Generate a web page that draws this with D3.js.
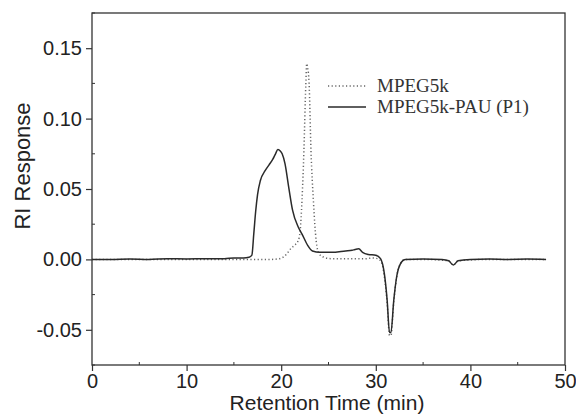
<!DOCTYPE html>
<html lang="en">
    <head>
        <meta charset="utf-8">
        <title>GPC traces</title>
        <script type="text/javascript" src="https://cdn.jsdelivr.net/npm/d3@7"></script>
        <style>
            body { margin: 0; background: #fff; }
        </style>
    </head>
    <body>
        <script type="text/javascript">

            //Width and height
            var w = 576;
            var h = 418;
            var margin = {top: 13, right: 11, bottom: 53, left: 92};

            //Series (time in min, RI response)
            var seriesNames = ["MPEG5k", "MPEG5k-PAU (P1)"];

            var mpegTime = [0, 5, 10, 15, 19, 19.8, 20.2, 20.6, 21.0, 21.4, 21.8, 22.0, 22.2, 22.4, 22.6, 22.7,
                22.8, 22.95, 23.15, 23.4, 23.7, 24.0, 24.5, 25.3, 27, 29, 29.6, 30.2, 30.6, 30.9, 31.2, 31.45,
                31.6, 31.9, 32.2, 32.7, 33.1, 35, 37.7, 38.2, 38.7, 42, 48];
            var mpegValue = [0, 0, 0, 0, 0, 0.0005, 0.0016, 0.004, 0.0075, 0.010, 0.0134, 0.020, 0.042, 0.077, 0.124, 0.139,
                0.136, 0.125, 0.077, 0.042, 0.013, 0.004, 0.0016, 0.0005, 0.0005, 0.0005, 0.001, 0.0005, -0.002, -0.012, -0.031, -0.054,
                -0.054, -0.030, -0.013, -0.002, 0, 0, -0.001, -0.004, -0.001, 0, 0];

            var pauTime = [0, 2, 4, 6, 8, 10, 12, 14, 15, 16, 16.6, 16.9, 17.1, 17.3, 17.5, 17.8, 18.3, 18.7, 19.1, 19.4,
                19.65, 19.9, 20.1, 20.4, 20.8, 21.2, 21.8, 22.2, 22.8, 23.3, 24.1, 25.3, 26.8, 27.5, 27.8, 28.2, 28.6,
                29.2, 30.0, 30.5, 30.9, 31.2, 31.45, 31.6, 31.9, 32.2, 32.7, 33.1, 35, 37, 37.7, 38.2, 38.7, 40, 42, 44, 46, 48];
            var pauValue = [0, 0, 0.0003, 0, 0.0005, 0.0003, 0.0005, 0.0005, 0.001, 0.001, 0.0015, 0.003, 0.018, 0.034, 0.046, 0.056, 0.063, 0.067, 0.071, 0.075,
                0.078, 0.077, 0.075, 0.068, 0.051, 0.035, 0.023, 0.018, 0.010, 0.006, 0.005, 0.005, 0.006, 0.0065, 0.007, 0.0075, 0.005,
                0.0035, 0.003, 0.0005, -0.010, -0.029, -0.052, -0.052, -0.029, -0.0125, -0.002, 0, 0.0003, 0, -0.001, -0.004, -0.001, 0, 0.0003, 0, 0.0002, 0];

            //Tick values
            var xTicks = [0, 10, 20, 30, 40, 50];
            var xMinor = [5, 15, 25, 35, 45];
            var yTicks = [-0.05, 0, 0.05, 0.10, 0.15];
            var yMinor = [-0.075, -0.025, 0.025, 0.075, 0.125, 0.175];

            //Plain hyphen for negative numbers, as in the original
            var locale = d3.formatLocale({decimal: ".", thousands: ",", grouping: [3], currency: ["", ""], minus: "-"});

            var xScale = d3.scaleLinear()
                        .domain([0, 50])
                        .range([margin.left, w - margin.right]);

            var yScale = d3.scaleLinear()
                        .domain([-0.075, 0.175])
                        .range([h - margin.bottom, margin.top]);

            //Create SVG element
            var svg = d3.select("body")
                        .append("svg")
                        .attr("width", w)
                        .attr("height", h);

            var line = d3.line()
                        .x(function(d) { return xScale(d[0]); })
                        .y(function(d) { return yScale(d[1]); })
                        .curve(d3.curveMonotoneX);

            var mpeg = d3.zip(mpegTime, mpegValue);
            var pau = d3.zip(pauTime, pauValue);

            //Dotted trace first, solid on top
            svg.append("path")
                .datum(mpeg)
                .attr("d", line)
                .attr("fill", "none")
                .attr("stroke", "#666")
                .attr("stroke-width", 1.5)
                .attr("stroke-dasharray", "1.2,2.4");

            svg.append("path")
                .datum(pau)
                .attr("d", line)
                .attr("fill", "none")
                .attr("stroke", "#2a2a2a")
                .attr("stroke-width", 1.5);

            //Frame
            svg.append("rect")
                .attr("x", margin.left)
                .attr("y", margin.top)
                .attr("width", w - margin.left - margin.right)
                .attr("height", h - margin.top - margin.bottom)
                .attr("fill", "none")
                .attr("stroke", "#333")
                .attr("stroke-width", 1.3);

            //Axes
            var xAxis = d3.axisBottom(xScale)
                        .tickValues(xTicks)
                        .tickSize(6)
                        .tickPadding(3)
                        .tickFormat(locale.format("d"));

            var yAxis = d3.axisLeft(yScale)
                        .tickValues(yTicks)
                        .tickSize(6)
                        .tickPadding(4)
                        .tickFormat(locale.format(".2f"));

            var gx = svg.append("g")
                .attr("transform", "translate(0," + (h - margin.bottom) + ")")
                .call(xAxis);

            var gy = svg.append("g")
                .attr("transform", "translate(" + margin.left + ",0)")
                .call(yAxis);

            [gx, gy].forEach(function(g) {
                g.select(".domain").remove();
                g.selectAll("line").attr("stroke", "#333").attr("stroke-width", 1.2);
                g.selectAll("text")
                    .attr("fill", "#222")
                    .attr("font-family", "Liberation Sans, Arial, sans-serif")
                    .attr("font-size", "20px");
            });

            //Minor ticks, pointing inward
            svg.append("g")
                .selectAll("line")
                .data(xMinor)
                .enter()
                .append("line")
                .attr("x1", function(d) { return xScale(d); })
                .attr("x2", function(d) { return xScale(d); })
                .attr("y1", h - margin.bottom)
                .attr("y2", h - margin.bottom - 3)
                .attr("stroke", "#333");

            svg.append("g")
                .selectAll("line")
                .data(yMinor)
                .enter()
                .append("line")
                .attr("x1", margin.left)
                .attr("x2", margin.left + 3)
                .attr("y1", function(d) { return yScale(d); })
                .attr("y2", function(d) { return yScale(d); })
                .attr("stroke", "#333");

            //Axis titles
            svg.append("text")
                .attr("x", 327)
                .attr("y", 410)
                .attr("text-anchor", "middle")
                .attr("font-family", "Liberation Sans, Arial, sans-serif")
                .attr("font-size", "21px")
                .attr("fill", "#222")
                .text("Retention Time (min)");

            svg.append("text")
                .attr("transform", "translate(30,166) rotate(-90)")
                .attr("text-anchor", "middle")
                .attr("font-family", "Liberation Sans, Arial, sans-serif")
                .attr("font-size", "22px")
                .attr("fill", "#222")
                .text("RI Response");

            //Legend
            var legend = svg.append("g")
                .selectAll("g")
                .data(seriesNames)
                .enter()
                .append("g")
                .attr("transform", function(d, i) { return "translate(328," + (86 + i * 21) + ")"; });

            legend.append("line")
                .attr("x1", 0)
                .attr("x2", 38)
                .attr("stroke", function(d, i) { return i === 0 ? "#666" : "#2a2a2a"; })
                .attr("stroke-width", 1.5)
                .attr("stroke-dasharray", function(d, i) { return i === 0 ? "1.2,2.4" : null; });

            legend.append("text")
                .attr("x", 49)
                .attr("y", 6)
                .attr("font-family", "Liberation Serif, Times New Roman, serif")
                .attr("font-size", "19px")
                .attr("fill", "#333")
                .text(function(d) { return d; });

        </script>
    </body>
</html>
